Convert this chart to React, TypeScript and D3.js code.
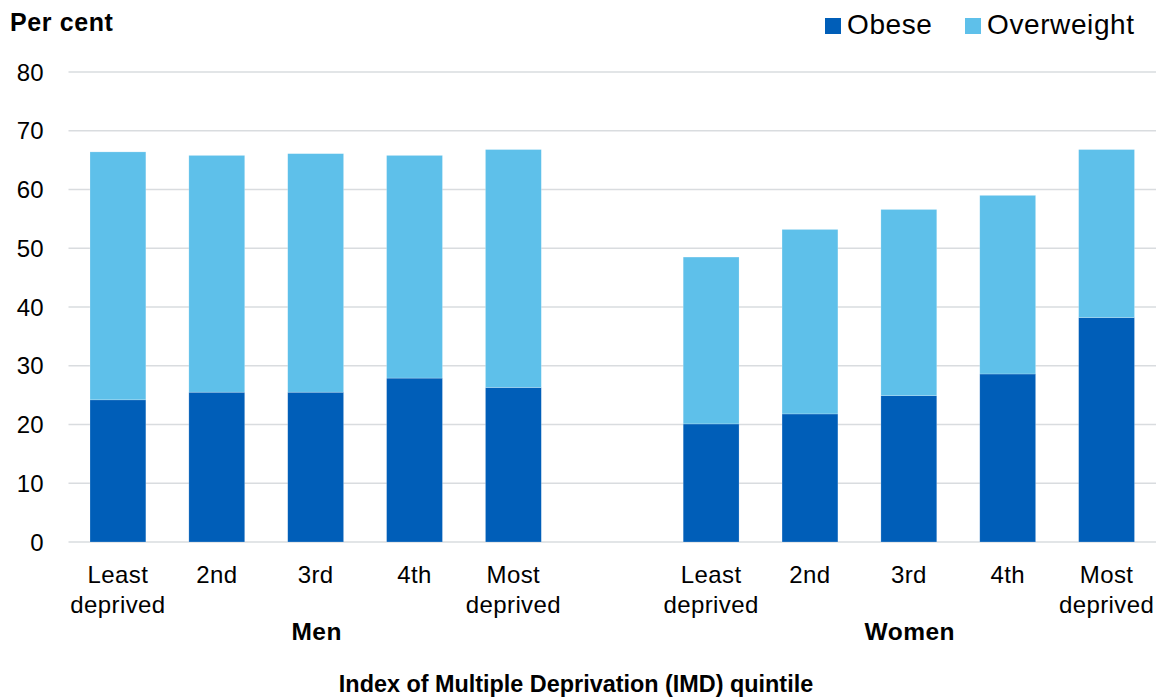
import { useEffect, useRef } from 'react';
import * as d3 from 'd3';

const [width, height] = [1164, 699];
const margin = { top: 72, right: 8, bottom: 157, left: 68.5 };

const groups = ['Men', 'Women'];
const quintiles = ['Least deprived', '2nd', '3rd', '4th', 'Most deprived'];
const obeseMen = [24.2, 25.5, 25.5, 27.9, 26.3];
const overweightMen = [42.2, 40.3, 40.6, 37.9, 40.5];
const obeseWomen = [20.1, 21.8, 24.9, 28.6, 38.2];
const overweightWomen = [28.4, 31.4, 31.7, 30.4, 28.6];
const yTicks = [0, 10, 20, 30, 40, 50, 60, 70, 80];
const seriesKeys = ['obese', 'overweight'];
const seriesNames = ['Obese', 'Overweight'];
const colors = ['#005EB8', '#5EC0EA'];

const font = '"Liberation Sans", Arial, sans-serif';

function App() {
    const node = useRef<SVGSVGElement | null>(null);

    useEffect(() => {
        if (!node.current) return;
        const svg = d3.select(node.current);
        svg.selectAll('*').remove();

        // rows for each bar, plus an empty slot between the two groups
        const rows: any[] = [];
        groups.forEach((g, gi) => {
            const ob = gi === 0 ? obeseMen : obeseWomen;
            const ov = gi === 0 ? overweightMen : overweightWomen;
            quintiles.forEach((q, i) => {
                rows.push({ key: g + '|' + q, group: g, label: q, obese: ob[i], overweight: ov[i] });
            });
            if (gi === 0) rows.push({ key: 'gap', group: null, label: '', obese: 0, overweight: 0 });
        });

        const x = d3.scaleBand()
            .domain(rows.map(d => d.key))
            .range([margin.left, width - margin.right])
            .paddingInner(0.435)
            .paddingOuter(0.2175);

        const y = d3.scaleLinear()
            .domain([0, 80])
            .range([height - margin.bottom, margin.top]);

        // gridlines
        svg.append('g')
            .selectAll('line')
            .data(yTicks)
            .enter()
            .append('line')
            .attr('x1', margin.left)
            .attr('x2', width - margin.right)
            .attr('y1', d => y(d))
            .attr('y2', d => y(d))
            .attr('stroke', '#d9dcdf')
            .attr('stroke-width', 1.5);

        // y tick labels
        svg.append('g')
            .selectAll('text')
            .data(yTicks)
            .enter()
            .append('text')
            .attr('x', 44)
            .attr('y', d => y(d) + 8.5)
            .attr('text-anchor', 'end')
            .attr('font-family', font)
            .attr('font-size', 24)
            .attr('letter-spacing', 0.3)
            .attr('fill', '#000')
            .text(d => d);

        const stacked = d3.stack().keys(seriesKeys)(rows.filter(d => d.group));

        svg.append('g')
            .selectAll('g')
            .data(stacked)
            .enter()
            .append('g')
            .attr('fill', (d, i) => colors[i])
            .selectAll('rect')
            .data(d => d)
            .enter()
            .append('rect')
            .attr('x', (d: any) => x(d.data.key)!)
            .attr('width', x.bandwidth())
            .attr('y', d => y(d[1]))
            .attr('height', d => y(d[0]) - y(d[1]))
            .attr('stroke', '#ffffff')
            .attr('stroke-opacity', 0.35)
            .attr('stroke-width', 0.6);

        // category labels
        const cat = svg.append('g')
            .selectAll('text')
            .data(rows.filter(d => d.group))
            .enter()
            .append('text')
            .attr('text-anchor', 'middle')
            .attr('font-family', font)
            .attr('font-size', 24)
            .attr('letter-spacing', 0.4)
            .attr('fill', '#000');
        cat.each(function (d: any) {
            const t = d3.select(this);
            const cx = x(d.key)! + x.bandwidth() / 2;
            d.label.split(' ').forEach((w: string, i: number) => {
                t.append('tspan').attr('x', cx).attr('y', 583 + i * 29.5).text(w);
            });
        });

        // group labels
        svg.append('g')
            .selectAll('text')
            .data(groups)
            .enter()
            .append('text')
            .attr('x', g => x(g + '|3rd')! + x.bandwidth() / 2 + 1)
            .attr('y', 640)
            .attr('text-anchor', 'middle')
            .attr('font-family', font)
            .attr('font-size', 24.5)
            .attr('font-weight', 'bold')
            .attr('letter-spacing', 0.5)
            .text(g => g);

        svg.append('text')
            .attr('x', 576)
            .attr('y', 692)
            .attr('text-anchor', 'middle')
            .attr('font-family', font)
            .attr('font-size', 23.4)
            .attr('font-weight', 'bold')
            .text('Index of Multiple Deprivation (IMD) quintile');

        svg.append('text')
            .attr('x', 10)
            .attr('y', 31)
            .attr('font-family', font)
            .attr('font-size', 25)
            .attr('font-weight', 'bold')
            .attr('letter-spacing', 0.6)
            .text('Per cent');

        // legend
        const legendX = [825, 965];
        const legend = svg.append('g')
            .selectAll('g')
            .data(seriesNames)
            .enter()
            .append('g')
            .attr('transform', (d, i) => `translate(${legendX[i]},18)`);
        legend.append('rect')
            .attr('width', 16)
            .attr('height', 16)
            .attr('fill', (d, i) => colors[i]);
        legend.append('text')
            .attr('x', 22)
            .attr('y', 16)
            .attr('font-family', font)
            .attr('font-size', 28)
            .attr('letter-spacing', 0.6)
            .attr('fill', '#000')
            .text(d => d);
    }, [node]);

    return (
        <div style={{ position: 'absolute', left: 0, top: 0 }}>
            <svg ref={node} width={width} height={height} style={{ display: 'block', background: '#fff' }}></svg>
        </div>
    );
}

export default App;
